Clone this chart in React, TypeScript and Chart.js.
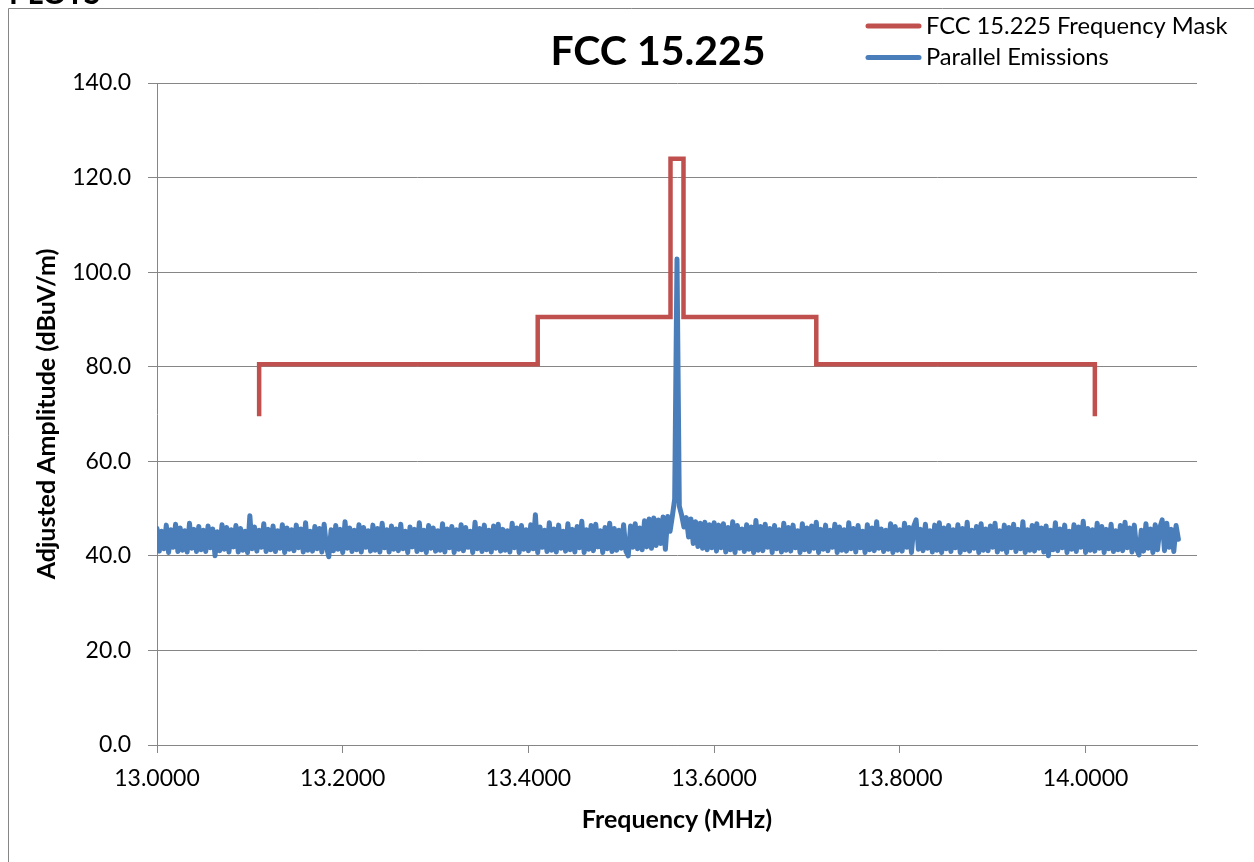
import React, { useEffect, useRef } from 'react';
import { Chart, registerables } from 'chart.js';

Chart.register(...registerables);

// FCC 15.225 frequency mask (MHz, dBuV/m)
const MASK_FREQ = [13.11, 13.11, 13.41, 13.41, 13.553, 13.553, 13.567, 13.567, 13.71, 13.71, 14.01, 14.01];
const MASK_LEVEL = [69.5, 80.5, 80.5, 90.5, 90.5, 124.0, 124.0, 90.5, 90.5, 80.5, 80.5, 69.5];

// Measured sweep (evenly spaced from SWEEP_START to SWEEP_STOP)
const SWEEP_START = 13.0;
const SWEEP_STOP = 14.1;
const EMISSIONS = [
  45.8, 41.0, 45.2, 41.5, 46.5, 40.7, 45.5, 41.8, 46.7, 40.9, 45.9, 41.2, 45.3, 40.8, 46.9, 41.6, 45.6, 40.9, 46.2, 41.3,
  45.4, 40.9, 46.3, 41.7, 45.7, 40.0, 45.1, 41.1, 46.6, 41.4, 46.0, 40.8, 45.5, 41.9, 46.4, 40.8, 45.8, 41.2, 45.2, 40.7,
  48.5, 41.5, 46.1, 41.0, 45.4, 41.8, 46.8, 40.9, 45.6, 41.3, 46.3, 40.9, 45.3, 41.6, 46.6, 40.7, 45.9, 41.4, 45.5, 41.1,
  46.5, 41.7, 45.7, 40.8, 47.0, 41.2, 45.2, 41.0, 46.2, 41.5, 45.8, 40.8, 46.7, 41.9, 39.8, 45.5, 41.1, 46.4, 41.4, 45.6,
  40.7, 47.2, 41.6, 45.9, 40.9, 45.4, 41.3, 46.6, 40.8, 46.0, 41.8, 45.3, 41.0, 46.5, 41.2, 45.8, 40.8, 46.9, 41.7, 45.5,
  40.8, 46.3, 41.4, 45.7, 41.1, 46.7, 41.5, 45.2, 40.7, 46.1, 41.9, 45.6, 40.9, 47.0, 41.3, 45.4, 40.7, 46.4, 41.6, 45.9,
  41.0, 45.3, 41.2, 46.8, 40.8, 45.7, 41.7, 46.2, 40.7, 45.5, 41.4, 46.6, 41.1, 46.0, 41.8, 45.2, 40.7, 47.1, 41.5, 45.8,
  40.9, 46.5, 41.3, 45.4, 40.8, 46.3, 41.6, 46.7, 41.0, 45.6, 41.2, 45.3, 40.8, 46.9, 41.7, 45.9, 40.7, 46.4, 41.4, 45.5,
  41.1, 46.6, 41.5, 48.7, 40.7, 46.1, 41.8, 45.4, 40.9, 47.0, 41.2, 45.7, 40.8, 46.5, 41.6, 45.2, 41.0, 46.8, 41.3, 45.6,
  40.8, 46.2, 41.7, 47.3, 40.7, 45.5, 41.4, 46.4, 41.1, 46.7, 41.9, 45.3, 40.7, 46.0, 41.5, 46.9, 40.9, 45.8, 41.2, 45.4,
  41.6, 46.6, 41.0, 40.0, 46.3, 41.8, 46.8, 41.5, 45.9, 41.3, 47.4, 41.9, 47.8, 41.6, 48.0, 42.2, 47.6, 42.6, 48.2, 41.4,
  48.3, 45.2, 48.4, 52.0, 102.8, 50.5, 48.6, 46.1, 48.1, 44.0, 47.8, 42.6, 47.2, 42.0, 46.9, 41.6, 47.1, 41.3, 46.6, 41.7,
  47.0, 41.0, 46.5, 41.7, 46.8, 40.8, 46.0, 41.3, 47.2, 40.7, 46.4, 41.6, 45.7, 40.9, 46.6, 41.4, 46.1, 40.7, 47.5, 41.2,
  46.2, 41.1, 46.7, 41.8, 45.8, 40.7, 46.4, 41.5, 45.5, 40.8, 46.9, 41.2, 46.0, 41.0, 46.5, 41.7, 45.3, 40.7, 46.8, 41.3,
  45.9, 40.9, 46.3, 41.6, 47.1, 40.7, 45.6, 41.4, 46.5, 41.1, 45.4, 41.8, 46.7, 40.7, 46.1, 41.2, 45.5, 41.0, 47.0, 41.5,
  45.8, 40.8, 46.4, 41.7, 45.2, 40.7, 46.6, 41.3, 45.9, 41.1, 47.2, 41.6, 45.7, 40.9, 45.4, 41.4, 46.8, 40.7, 46.2, 41.2,
  45.5, 41.0, 46.9, 41.8, 46.0, 40.7, 46.3, 47.6, 41.4, 45.6, 41.1, 46.7, 41.6, 45.3, 40.8, 46.5, 41.2, 47.0, 40.7, 45.9,
  41.5, 46.4, 40.9, 45.5, 41.7, 46.6, 40.7, 45.8, 41.3, 47.1, 41.0, 45.4, 41.6, 46.2, 40.7, 46.8, 41.2, 45.7, 41.1, 46.3,
  41.8, 46.9, 40.8, 45.3, 41.4, 46.5, 40.7, 46.0, 41.7, 46.7, 40.9, 45.6, 41.5, 47.2, 40.7, 45.5, 41.2, 46.4, 41.0, 46.8,
  41.6, 45.9, 40.8, 46.3, 40.0, 45.4, 41.3, 47.0, 41.1, 45.7, 41.7, 46.5, 40.7, 45.2, 41.4, 46.6, 40.9, 46.1, 41.8, 47.3,
  40.7, 45.8, 41.2, 45.5, 41.0, 46.9, 41.6, 46.2, 40.7, 45.6, 41.5, 46.7, 40.9, 45.3, 41.3, 46.4, 41.1, 47.1, 41.7, 45.9,
  40.8, 46.5, 41.4, 40.2, 45.4, 41.0, 46.8, 41.6, 45.7, 40.7, 46.6, 41.3, 46.0, 47.6, 41.1, 46.9, 41.8, 45.6, 40.9, 46.4,
  43.5,
];

const X_TICKS = [13.0, 13.2, 13.4, 13.6, 13.8, 14.0];
const Y_TICKS = [0, 20, 40, 60, 80, 100, 120, 140];

const TITLE = 'FCC 15.225';
const HEADER = 'PLOTS';
const MASK_LABEL = 'FCC 15.225 Frequency Mask';
const EMISSIONS_LABEL = 'Parallel Emissions';

const RED = '#C0504D';
const BLUE = '#4A7EBB';
const GRID = '#868686';
const FONT = 'Lato';

const decorations = {
  id: 'decorations',
  beforeDraw(chart: any) {
    const ctx = chart.ctx as CanvasRenderingContext2D;
    ctx.save();
    ctx.fillStyle = '#ffffff';
    ctx.fillRect(0, 0, chart.width, chart.height);
    ctx.strokeStyle = GRID;
    ctx.lineWidth = 1;
    ctx.beginPath();
    ctx.moveTo(8.5, chart.height);
    ctx.lineTo(8.5, 8.5);
    ctx.lineTo(chart.width, 8.5);
    ctx.stroke();
    ctx.fillStyle = '#000';
    ctx.font = `bold 30px ${FONT}`;
    ctx.textBaseline = 'alphabetic';
    ctx.textAlign = 'left';
    ctx.fillText(HEADER, 9, 4);
    ctx.restore();
  },
  afterDraw(chart: any) {
    const ctx = chart.ctx as CanvasRenderingContext2D;
    ctx.save();
    ctx.fillStyle = '#000';
    ctx.font = `bold 41px ${FONT}`;
    ctx.textAlign = 'center';
    ctx.textBaseline = 'middle';
    ctx.fillText(TITLE, 658, 52);

    const items = chart.data.datasets.map((d: any) => ({ label: d.label, color: d.borderColor }));
    items.forEach((it: any, i: number) => {
      const y = 26 + i * 31.5;
      ctx.strokeStyle = it.color;
      ctx.lineWidth = 5;
      ctx.lineCap = 'round';
      ctx.beginPath();
      ctx.moveTo(868, y);
      ctx.lineTo(919, y);
      ctx.stroke();
      ctx.fillStyle = '#000';
      ctx.font = `23.7px ${FONT}`;
      ctx.textAlign = 'left';
      ctx.textBaseline = 'middle';
      ctx.fillText(it.label, 926, y);
    });
    ctx.restore();
  },
};

export default function App() {
  const ref = useRef<HTMLCanvasElement | null>(null);

  useEffect(() => {
    if (!ref.current) return;
    Chart.defaults.font.family = FONT;
    const n = EMISSIONS.length;
    const step = (SWEEP_STOP - SWEEP_START) / (n - 1);
    const emissionPts = EMISSIONS.map((v, i) => ({ x: SWEEP_START + i * step, y: v }));
    const maskPts = MASK_FREQ.map((f, i) => ({ x: f, y: MASK_LEVEL[i] }));

    const chart = new Chart(ref.current, {
      type: 'line',
      data: {
        datasets: [
          {
            label: MASK_LABEL,
            data: maskPts,
            borderColor: RED,
            backgroundColor: RED,
            borderWidth: 4.5,
            pointRadius: 0,
            tension: 0,
            borderJoinStyle: 'miter',
            order: 2,
          },
          {
            label: EMISSIONS_LABEL,
            data: emissionPts,
            borderColor: BLUE,
            backgroundColor: BLUE,
            borderWidth: 5,
            pointRadius: 0,
            tension: 0,
            borderJoinStyle: 'round',
            borderCapStyle: 'round',
            order: 1,
          },
        ],
      },
      options: {
        responsive: false,
        animation: false,
        devicePixelRatio: 1,
        layout: { padding: { left: 0, top: 83, right: 57, bottom: 0 } },
        plugins: {
          legend: { display: false },
          title: { display: false },
          tooltip: { enabled: false },
        },
        scales: {
          x: {
            type: 'linear',
            min: 13.0,
            max: 14.12,
            afterBuildTicks: (s: any) => {
              s.ticks = X_TICKS.map((v) => ({ value: v }));
            },
            afterFit: (s: any) => {
              s.height = 117;
            },
            ticks: {
              callback: (v: any) => Number(v).toFixed(4),
              font: { size: 23 },
              color: '#000',
              padding: 12,
              maxRotation: 0,
              autoSkip: false,
            },
            grid: { drawOnChartArea: false, drawTicks: true, tickLength: 8, color: GRID },
            border: { color: GRID },
            title: {
              display: true,
              text: 'Frequency (MHz)',
              font: { size: 25, weight: 'bold' },
              color: '#000',
              padding: { top: 0, bottom: 27 },
            },
          },
          y: {
            min: 0,
            max: 140,
            afterBuildTicks: (s: any) => {
              s.ticks = Y_TICKS.map((v) => ({ value: v }));
            },
            afterFit: (s: any) => {
              s.width = 157;
            },
            ticks: {
              callback: (v: any) => Number(v).toFixed(1),
              font: { size: 23 },
              color: '#000',
              padding: 17,
            },
            grid: { color: GRID, tickLength: 9 },
            border: { color: GRID },
            title: {
              display: true,
              text: 'Adjusted Amplitude (dBuV/m)',
              font: { size: 25, weight: 'bold' },
              color: '#000',
              padding: { top: 32, bottom: 0 },
            },
          },
        },
      },
      plugins: [decorations],
    } as any);

    return () => chart.destroy();
  }, []);

  return (
    <canvas
      ref={ref}
      width={1254}
      height={862}
      style={{ position: 'fixed', left: 0, top: 0, width: 1254, height: 862, display: 'block' }}
    />
  );
}
